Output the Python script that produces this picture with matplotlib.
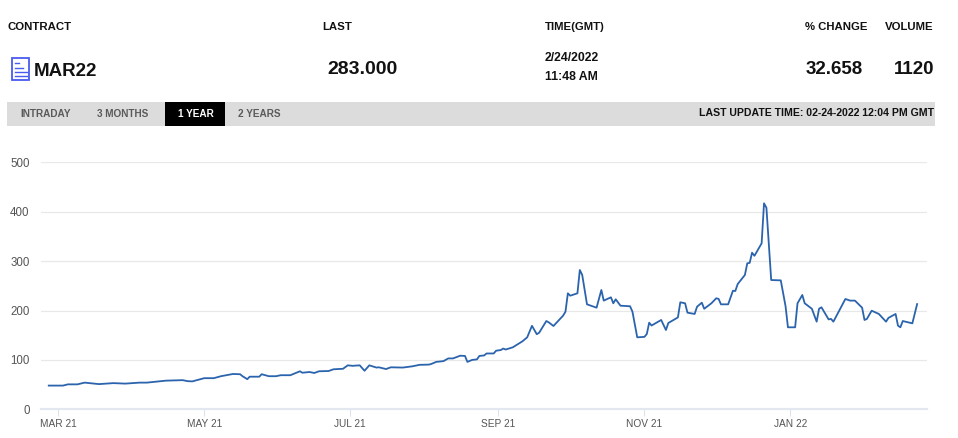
import matplotlib
matplotlib.use("Agg")
import matplotlib.pyplot as plt
import matplotlib.dates as mdates
from matplotlib.patches import Rectangle
import pandas as pd

plt.rcParams['font.family'] = ['Liberation Sans', 'DejaVu Sans']

# ---- data ----
dates = [
    "2021-02-25", "2021-03-03", "2021-03-05", "2021-03-09", "2021-03-12", "2021-03-14",
    "2021-03-18", "2021-03-24", "2021-03-29", "2021-04-04", "2021-04-07", "2021-04-11",
    "2021-04-15", "2021-04-22", "2021-04-24", "2021-04-26", "2021-05-01", "2021-05-05",
    "2021-05-08", "2021-05-13", "2021-05-16", "2021-05-17", "2021-05-19", "2021-05-20",
    "2021-05-24", "2021-05-25", "2021-05-28", "2021-05-31", "2021-06-02", "2021-06-06",
    "2021-06-09", "2021-06-10", "2021-06-11", "2021-06-14", "2021-06-16", "2021-06-18",
    "2021-06-22", "2021-06-24", "2021-06-28", "2021-06-30", "2021-07-02", "2021-07-05",
    "2021-07-07", "2021-07-09", "2021-07-12", "2021-07-13", "2021-07-16", "2021-07-18",
    "2021-07-23", "2021-07-27", "2021-07-30", "2021-08-03", "2021-08-04", "2021-08-06",
    "2021-08-09", "2021-08-11", "2021-08-13", "2021-08-16", "2021-08-18", "2021-08-19",
    "2021-08-21", "2021-08-23", "2021-08-24", "2021-08-26", "2021-08-27", "2021-08-30",
    "2021-08-31", "2021-09-02", "2021-09-03", "2021-09-04", "2021-09-07", "2021-09-09",
    "2021-09-11", "2021-09-13", "2021-09-15", "2021-09-17", "2021-09-18", "2021-09-21",
    "2021-09-22", "2021-09-24", "2021-09-25", "2021-09-28", "2021-09-29", "2021-09-30",
    "2021-10-01", "2021-10-04", "2021-10-05", "2021-10-06", "2021-10-08", "2021-10-12",
    "2021-10-14", "2021-10-15", "2021-10-18", "2021-10-19", "2021-10-20", "2021-10-22",
    "2021-10-26", "2021-10-27", "2021-10-29", "2021-11-01", "2021-11-02", "2021-11-03",
    "2021-11-04", "2021-11-08", "2021-11-10", "2021-11-11", "2021-11-15", "2021-11-16",
    "2021-11-18", "2021-11-19", "2021-11-22", "2021-11-23", "2021-11-25", "2021-11-26",
    "2021-11-29", "2021-12-01", "2021-12-02", "2021-12-03", "2021-12-06", "2021-12-08",
    "2021-12-09", "2021-12-10", "2021-12-13", "2021-12-14", "2021-12-15", "2021-12-16",
    "2021-12-17", "2021-12-20", "2021-12-21", "2021-12-22", "2021-12-24", "2021-12-28",
    "2021-12-30", "2021-12-31", "2022-01-03", "2022-01-04", "2022-01-06", "2022-01-07",
    "2022-01-10", "2022-01-12", "2022-01-13", "2022-01-14", "2022-01-17", "2022-01-18",
    "2022-01-19", "2022-01-24", "2022-01-26", "2022-01-28", "2022-01-31", "2022-02-01",
    "2022-02-02", "2022-02-04", "2022-02-07", "2022-02-10", "2022-02-11", "2022-02-14",
    "2022-02-15", "2022-02-16", "2022-02-17", "2022-02-21", "2022-02-23",
]
prices = [
    48, 48, 50.5, 50.5, 54, 53,
    51, 53, 52, 54, 54, 56,
    58, 59, 57, 56.5, 63, 63,
    67, 71.5, 71, 67, 61, 66,
    66, 71, 67, 67, 69, 69,
    75, 77, 74, 75.5, 73.5, 77,
    77.5, 81, 82, 89, 88, 89,
    78, 89, 84.5, 85, 81.5, 85,
    84.5, 87, 90, 90.5, 92, 96,
    97.5, 103, 103, 108.5, 108, 96,
    100, 101, 108, 109, 113, 113,
    118.6, 120, 123, 121, 125.5, 131.5,
    137.6, 145.7, 169, 152, 155, 178.7,
    176, 168.6, 174, 189.5, 197.6, 234.8,
    230, 234.8, 282, 272, 212.5, 205.7,
    241.5, 220, 226.7, 214.6, 222.7, 209.7,
    208.6, 197.6, 145.7, 146.6, 152.4, 175.3,
    169.6, 180.8, 160.5, 174.7, 186, 216.6,
    214.6, 195.6, 193, 207.7, 215.8, 203.5,
    214.6, 224.7, 223.6, 212.5, 212.5, 240,
    239.5, 253.6, 271.9, 295.5, 296.4, 317,
    310.7, 336, 417, 408, 261.7, 261,
    208.6, 166, 166, 214.6, 231.4, 214.6,
    203.5, 177.4, 203.5, 206.5, 182, 183,
    177.4, 223.3, 220, 220, 205.7, 180.8,
    183, 199.6, 193, 177.4, 185, 193,
    169.3, 166, 178.7, 174, 213,
]
y_ticks = [0, 100, 200, 300, 400, 500]
x_tick_dates = ["2021-03-01", "2021-05-01", "2021-07-01", "2021-09-01", "2021-11-01", "2022-01-01"]
x_tick_labels = ["MAR 21", "MAY 21", "JUL 21", "SEP 21", "NOV 21", "JAN 22"]

header_labels = ["CONTRACT", "LAST", "TIME(GMT)", "% CHANGE", "VOLUME"]
contract = "MAR22"
last_price = "283.000"
time_date = "2/24/2022"
time_clock = "11:48 AM"
pct_change = "32.658"
volume = "1120"
tabs = ["INTRADAY", "3 MONTHS", "1 YEAR", "2 YEARS"]
active_tab = "1 YEAR"
update_text = "LAST UPDATE TIME: 02-24-2022 12:04 PM GMT"

# ---- figure ----
W, H = 958, 438
fig = plt.figure(figsize=(W / 100, H / 100), dpi=100)
fig.patch.set_facecolor("white")

def fx(px):
    return px / W

def fy(py):
    return 1 - py / H

# header row
hdr_x = [7, 322, 545, 805, 885]
for lab, x in zip(header_labels, hdr_x):
    fig.text(fx(x), fy(27), lab, fontsize=8.2, fontweight="bold", color="#111111",
             ha="left", va="center")

# icon
icon_col = "#4a5cf0"
fig.patches.append(Rectangle((fx(11.5), fy(79.5)), fx(18), 21.5 / H, transform=fig.transFigure,
                             fill=False, edgecolor=icon_col, linewidth=1.3))
for (x0, x1, yy) in [(14.5, 19, 63), (14.5, 23, 67.5), (14.5, 26.5, 72), (14.5, 26.5, 76)]:
    fig.lines.append(plt.Line2D([fx(x0), fx(x1)], [fy(yy), fy(yy)], transform=fig.transFigure,
                                color=icon_col, linewidth=1.0))

fig.text(fx(34), fy(71), contract, fontsize=13.5, fontweight="bold", color="#111111",
         ha="left", va="center")
fig.text(fx(327), fy(69), last_price, fontsize=14, fontweight="bold", color="#111111",
         ha="left", va="center")
fig.text(fx(545), fy(58), time_date, fontsize=8.8, fontweight="bold", color="#111111",
         ha="left", va="center")
fig.text(fx(545), fy(77), time_clock, fontsize=8.8, fontweight="bold", color="#111111",
         ha="left", va="center")
fig.text(fx(863), fy(69), pct_change, fontsize=13.5, fontweight="bold", color="#111111",
         ha="right", va="center")
fig.text(fx(934), fy(69), volume, fontsize=13.5, fontweight="bold", color="#111111",
         ha="right", va="center")

# tab bar
fig.patches.append(Rectangle((fx(7), fy(126)), fx(928), 24 / H, transform=fig.transFigure,
                             facecolor="#dcdcdd", edgecolor="none"))
fig.patches.append(Rectangle((fx(165), fy(126)), fx(60), 24 / H, transform=fig.transFigure,
                             facecolor="#000000", edgecolor="none"))
tab_x = [20, 97, 178, 238]
for lab, x in zip(tabs, tab_x):
    fig.text(fx(x), fy(114), lab, fontsize=7.2, fontweight="bold",
             color="white" if lab == active_tab else "#5a5a5a", ha="left", va="center")
fig.text(fx(934), fy(113.5), update_text, fontsize=7.6, fontweight="bold", color="#111111",
         ha="right", va="center")

# chart axes
ax = fig.add_axes([fx(40.7), fy(409.3), fx(926.7 - 40.7), (409.3 - 162.3) / H])
d = pd.to_datetime(dates)
ax.plot(d, prices, color="#2b64ad", linewidth=1.3, solid_joinstyle="round")

ax.set_ylim(0, 500)
start = mdates.date2num(pd.Timestamp("2021-03-01"))
ax.set_xlim(start - 7.36, start + 363.0)
ax.set_yticks(y_ticks)
ax.set_yticklabels([str(v) for v in y_ticks])
ax.set_xticks(pd.to_datetime(x_tick_dates))
ax.set_xticklabels(x_tick_labels)

ax.grid(axis="y", color="#e8e8e8", linewidth=0.9)
ax.set_axisbelow(True)
for s in ["top", "right", "left"]:
    ax.spines[s].set_visible(False)
ax.spines["bottom"].set_color("#e3e7f0")
ax.spines["bottom"].set_linewidth(1.6)
ax.tick_params(axis="y", length=0, pad=8, labelsize=8.3, labelcolor="#555555")
ax.tick_params(axis="x", length=5, width=0.8, color="#dde2ec", pad=2, labelsize=7.3,
               labelcolor="#555555")
for lbl in ax.get_yticklabels():
    lbl.set_horizontalalignment("right")

fig.savefig("out.png", dpi=100, facecolor="white")
